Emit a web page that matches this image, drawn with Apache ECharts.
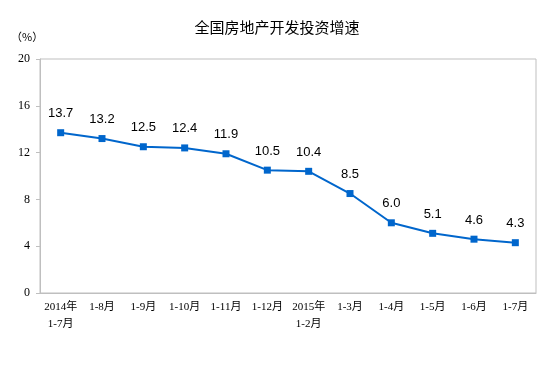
<!DOCTYPE html>
<html>
<head>
<meta charset="utf-8">
<script src="https://cdn.jsdelivr.net/npm/echarts@6/dist/echarts.min.js"></script>
<style>html,body{margin:0;padding:0;background:#fff}#c{width:554px;height:371px}</style>
</head>
<body>
<div id="c"></div>
<script>
var categories = ['2014年\n1-7月','1-8月','1-9月','1-10月','1-11月','1-12月','2015年\n1-2月','1-3月','1-4月','1-5月','1-6月','1-7月'];
var values = [13.7, 13.2, 12.5, 12.4, 11.9, 10.5, 10.4, 8.5, 6.0, 5.1, 4.6, 4.3];
var yTicks = {min: 0, max: 20, interval: 4};

var chart = echarts.init(document.getElementById('c'), null, {renderer: 'canvas'});
chart.setOption({
  animation: false,
  backgroundColor: '#fff',
  title: {
    text: '全国房地产开发投资增速',
    left: 'center',
    top: 15,
    textStyle: {fontSize: 15, fontWeight: 'normal', color: '#000', fontFamily: 'Noto Sans CJK SC'}
  },
  graphic: [{
    type: 'text', left: 11, top: 31,
    style: {text: '（%）', fontSize: 11, fill: '#000', fontFamily: 'Noto Sans CJK SC'}
  }],
  grid: {left: 40, right: 18, top: 59, bottom: 78, show: true, borderColor: '#bfbfbf', borderWidth: 1, containLabel: false},
  xAxis: {
    type: 'category',
    data: categories,
    boundaryGap: true,
    axisLine: {lineStyle: {color: '#bfbfbf'}},
    axisTick: {inside: true, length: 4, lineStyle: {color: '#bfbfbf'}},
    axisLabel: {color: '#000', fontSize: 11, lineHeight: 17, margin: 6, interval: 0, fontFamily: 'Liberation Serif, Noto Sans CJK SC'}
  },
  yAxis: {
    type: 'value',
    min: yTicks.min, max: yTicks.max, interval: yTicks.interval,
    axisLine: {show: true, lineStyle: {color: '#bfbfbf'}},
    axisTick: {show: true, inside: false, length: 4, lineStyle: {color: '#bfbfbf'}},
    splitLine: {show: false},
    axisLabel: {color: '#000', fontSize: 12, margin: 10, fontFamily: 'Liberation Serif'}
  },
  series: [{
    type: 'line',
    data: values,
    symbol: 'rect',
    symbolSize: 7,
    lineStyle: {color: '#0066cc', width: 2},
    itemStyle: {color: '#0066cc'},
    label: {
      show: true, position: 'top', distance: 9,
      formatter: function(p){ return p.value.toFixed(1); },
      color: '#000', fontSize: 13, fontFamily: 'Liberation Sans'
    }
  }]
});
</script>
</body>
</html>
